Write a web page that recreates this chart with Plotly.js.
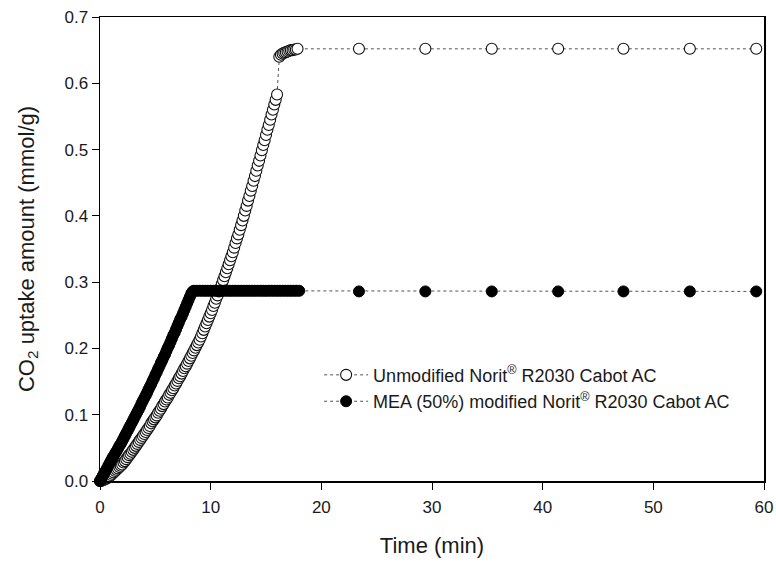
<!DOCTYPE html>
<html>
<head>
<meta charset="utf-8">
<script src="https://cdn.plot.ly/plotly-3.0.1.min.js"></script>
<style>html,body{margin:0;padding:0;background:#fff;}#chart{width:776px;height:563px;}</style>
</head>
<body>
<div id="chart"></div>
<script>
// ---- Data ----
// Unmodified Norit R2030 Cabot AC: rising part (time in min, uptake in mmol/g)
const tUnmodRise = [
  0,0.125,0.25,0.375,0.5,0.625,0.75,0.875,1,
  1.125,1.25,1.375,1.5,1.625,1.75,1.875,2,
  2.125,2.25,2.375,2.5,2.625,2.75,2.875,3,
  3.125,3.25,3.375,3.5,3.625,3.75,3.875,4,
  4.125,4.25,4.375,4.5,4.625,4.75,4.875,5,
  5.125,5.25,5.375,5.5,5.625,5.75,5.875,6,
  6.125,6.25,6.375,6.5,6.625,6.75,6.875,7,
  7.125,7.25,7.375,7.5,7.625,7.75,7.875,8,
  8.125,8.25,8.375,8.5,8.625,8.75,8.875,9,
  9.125,9.25,9.375,9.5,9.625,9.75,9.875,10,
  10.125,10.25,10.375,10.5,10.625,10.75,10.875,11,
  11.125,11.25,11.375,11.5,11.625,11.75,11.875,12,
  12.125,12.25,12.375,12.5,12.625,12.75,12.875,13,
  13.125,13.25,13.375,13.5,13.625,13.75,13.875,14,
  14.125,14.25,14.375,14.5,14.625,14.75,14.875,15,
  15.125,15.25,15.375,15.5,15.625,15.75,15.875,16
];
const unmodRise = [
  0,0.0005,0.001,0.002,0.003,0.004,0.006,0.007,0.009,
  0.011,0.013,0.015,0.017,0.019,0.021,0.023,0.025,
  0.028,0.030,0.033,0.036,0.039,0.041,0.044,0.047,
  0.050,0.053,0.056,0.059,0.062,0.065,0.068,0.071,
  0.074,0.077,0.080,0.083,0.087,0.090,0.093,0.096,
  0.099,0.103,0.106,0.109,0.113,0.116,0.120,0.123,
  0.126,0.130,0.133,0.137,0.140,0.144,0.147,0.151,
  0.155,0.158,0.162,0.166,0.170,0.173,0.177,0.181,
  0.185,0.189,0.193,0.197,0.201,0.205,0.209,0.213,
  0.218,0.223,0.228,0.233,0.238,0.243,0.248,0.253,
  0.258,0.264,0.269,0.275,0.280,0.286,0.291,0.297,
  0.303,0.309,0.315,0.321,0.327,0.333,0.339,0.345,
  0.352,0.359,0.366,0.372,0.379,0.386,0.393,0.400,
  0.408,0.415,0.423,0.430,0.438,0.445,0.453,0.460,
  0.468,0.476,0.483,0.491,0.499,0.507,0.514,0.522,
  0.530,0.537,0.545,0.553,0.560,0.568,0.575,0.583
];
const tUnmodTop = [16.2,16.35,16.5,16.65,16.8,16.95,17.1,17.25,17.4,17.55,17.7,17.85];
const unmodTop  = [0.640,0.643,0.645,0.646,0.647,0.648,0.649,0.650,0.650,0.651,0.651,0.652];
const tSparse = [23.4,29.4,35.4,41.4,47.3,53.3,59.3];
const unmodSparse = [0.652,0.652,0.652,0.652,0.652,0.652,0.652];

// MEA (50%) modified Norit R2030 Cabot AC
const tMeaRise = [
  0,0.125,0.25,0.375,0.5,0.625,0.75,0.875,1,
  1.125,1.25,1.375,1.5,1.625,1.75,1.875,2,
  2.125,2.25,2.375,2.5,2.625,2.75,2.875,3,
  3.125,3.25,3.375,3.5,3.625,3.75,3.875,4,
  4.125,4.25,4.375,4.5,4.625,4.75,4.875,5,
  5.125,5.25,5.375,5.5,5.625,5.75,5.875,6,
  6.125,6.25,6.375,6.5,6.625,6.75,6.875,7,
  7.125,7.25,7.375,7.5,7.625,7.75,7.875,8,
  8.125,8.25,8.375,8.5
];
const meaRise = [
  0,0.004,0.008,0.012,0.015,0.019,0.023,0.027,0.031,
  0.035,0.038,0.042,0.045,0.049,0.053,0.056,0.060,
  0.064,0.068,0.072,0.076,0.080,0.084,0.088,0.092,
  0.096,0.100,0.104,0.108,0.112,0.117,0.121,0.125,
  0.129,0.133,0.138,0.142,0.146,0.151,0.155,0.160,
  0.164,0.169,0.173,0.178,0.182,0.187,0.191,0.196,
  0.201,0.205,0.210,0.215,0.220,0.224,0.229,0.234,
  0.239,0.244,0.248,0.253,0.258,0.263,0.268,0.273,
  0.278,0.283,0.286,0.287
];
const tMeaFlat = [
  8.75,9,9.25,9.5,9.75,10,10.25,10.5,10.75,11,11.25,11.5,11.75,
  12,12.25,12.5,12.75,13,13.25,13.5,13.75,14,14.25,14.5,14.75,
  15,15.25,15.5,15.75,16,16.25,16.5,16.75,17,17.25,17.5,17.75,18
];
const meaFlat = [
  0.287,0.287,0.287,0.287,0.287,0.287,0.287,0.287,0.287,0.287,0.287,0.287,0.287,
  0.287,0.287,0.287,0.287,0.287,0.287,0.287,0.287,0.287,0.287,0.287,0.287,
  0.287,0.287,0.287,0.287,0.287,0.287,0.287,0.287,0.287,0.287,0.287,0.287,0.287
];
const meaSparse = [0.286,0.286,0.286,0.286,0.286,0.286,0.286];

const seriesNames = [
  'Unmodified Norit<sup>®</sup> R2030 Cabot AC',
  'MEA (50%) modified Norit<sup>®</sup> R2030 Cabot AC'
];
const xTickVals = [0,10,20,30,40,50,60];
const yTickVals = [0,0.1,0.2,0.3,0.4,0.5,0.6,0.7];

// ---- Figure ----
const txt = '#1a1a1a';
const traces = [
  {
    x: tUnmodRise.concat(tUnmodTop, tSparse),
    y: unmodRise.concat(unmodTop, unmodSparse),
    name: seriesNames[0],
    type: 'scatter', mode: 'lines+markers', cliponaxis: false,
    line: {color: '#555', width: 1, dash: 'dot'},
    marker: {symbol: 'circle', size: 11, color: '#ffffff', line: {color: '#111', width: 1.1}}
  },
  {
    x: tMeaRise.concat(tMeaFlat, tSparse),
    y: meaRise.concat(meaFlat, meaSparse),
    name: seriesNames[1],
    type: 'scatter', mode: 'lines+markers', cliponaxis: false,
    line: {color: '#555', width: 1, dash: 'dot'},
    marker: {symbol: 'circle', size: 11, color: '#000000', line: {color: '#000', width: 1}}
  }
];

const layout = {
  width: 776, height: 563,
  margin: {l: 100, r: 12, t: 17, b: 82},
  paper_bgcolor: '#ffffff', plot_bgcolor: '#ffffff',
  font: {family: 'Liberation Sans, Arial, sans-serif', size: 17, color: txt},
  showlegend: true,
  legend: {
    x: 0.33, y: 0.268, xanchor: 'left', yanchor: 'top',
    bgcolor: 'rgba(0,0,0,0)', borderwidth: 0,
    font: {size: 18, color: txt},
    itemwidth: 44, tracegroupgap: 0
  },
  xaxis: {
    range: [0, 60], tickvals: xTickVals, ticktext: xTickVals.map(String),
    ticks: 'outside', ticklen: 7, tickwidth: 1, tickcolor: '#000',
    ticklabelstandoff: 3,
    showline: true, linecolor: '#000', linewidth: 1.5, mirror: true,
    showgrid: false, zeroline: false,
    tickfont: {size: 17, color: txt},
    title: {text: 'Time (min)', font: {size: 22, color: txt}, standoff: 21}
  },
  yaxis: {
    range: [0, 0.7], tickvals: yTickVals, tickformat: '.1f',
    ticks: 'outside', ticklen: 7, tickwidth: 1, tickcolor: '#000',
    showline: true, linecolor: '#000', linewidth: 1.5, mirror: true,
    showgrid: false, zeroline: false,
    tickfont: {size: 17, color: txt},
    title: {text: 'CO<sub>2</sub> uptake amount (mmol/g)', font: {size: 22, color: txt}, standoff: 24}
  }
};

Plotly.newPlot('chart', traces, layout, {staticPlot: true, displayModeBar: false});
</script>
</body>
</html>
